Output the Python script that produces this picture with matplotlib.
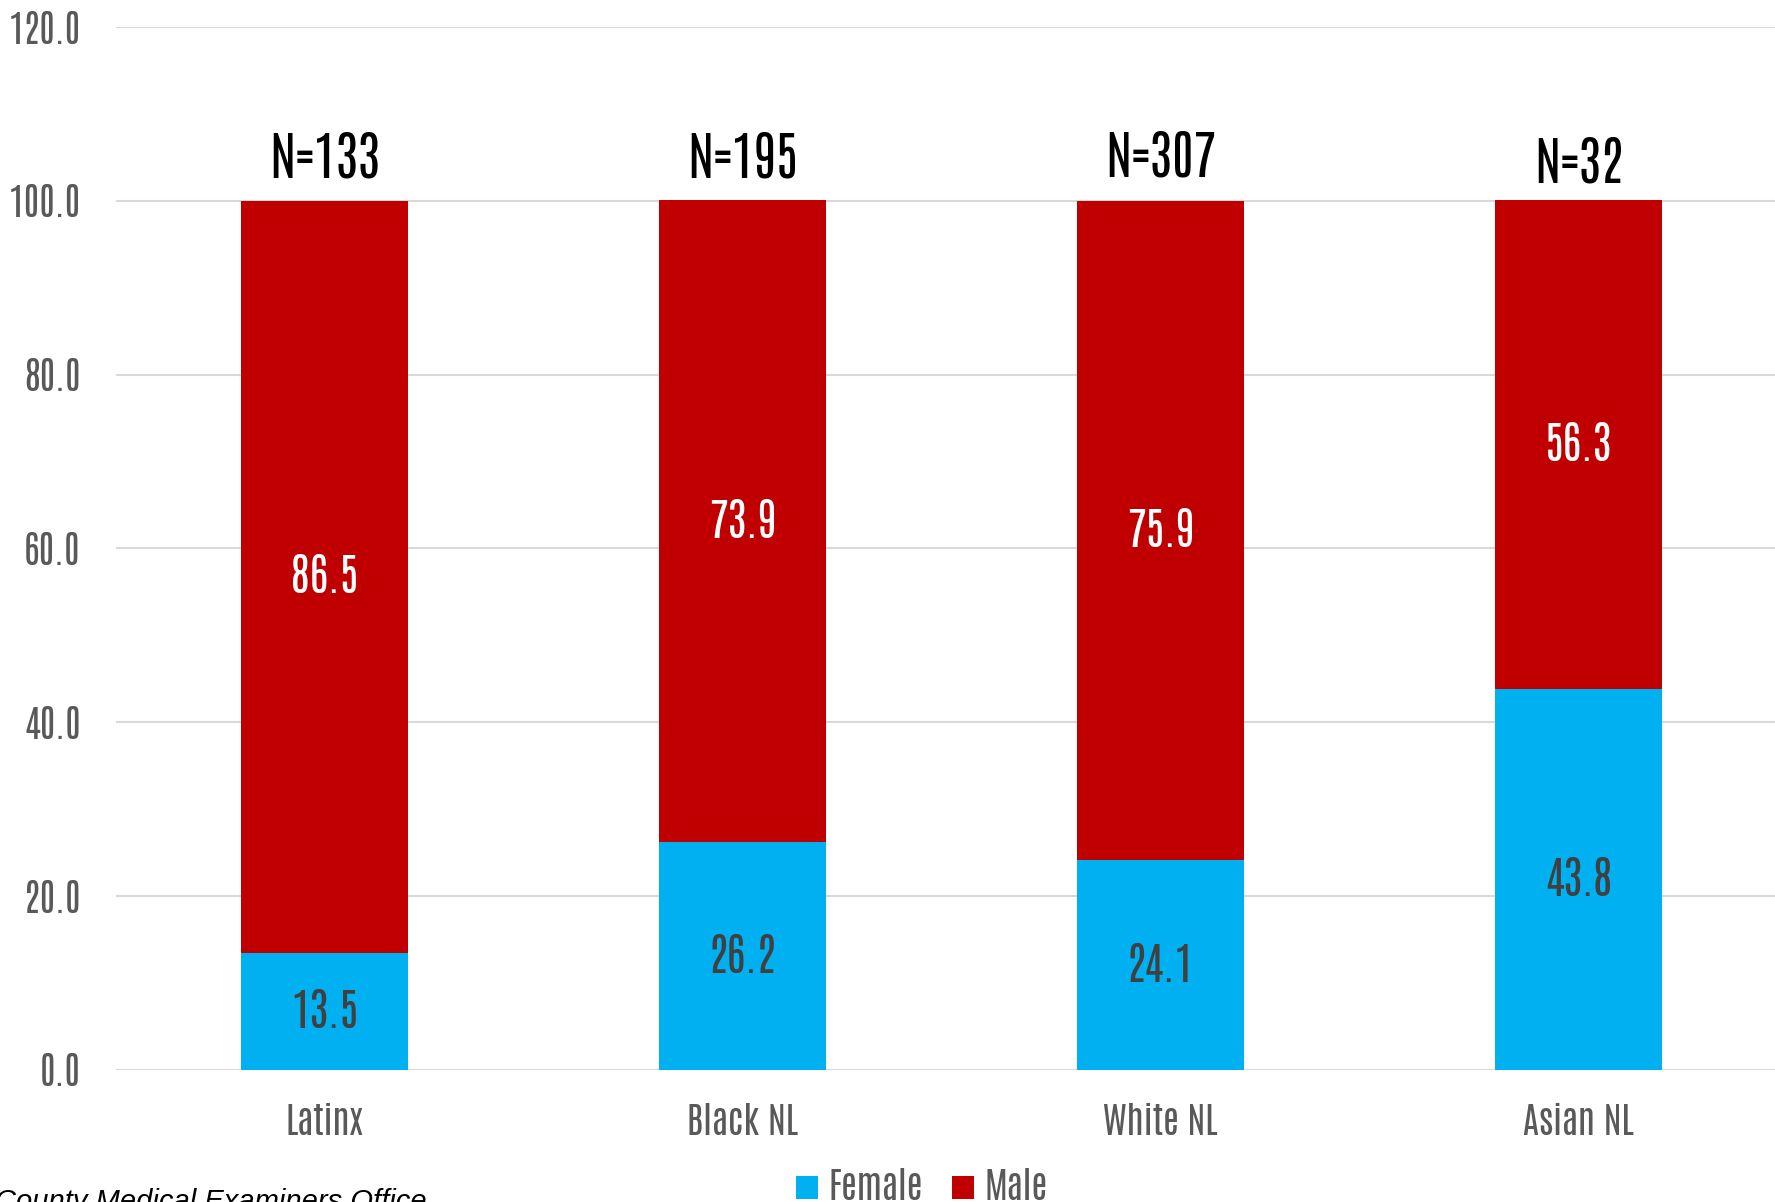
import matplotlib
matplotlib.use("Agg")
import matplotlib.pyplot as plt
from matplotlib.patches import Patch

categories = ["Latinx", "Black NL", "White NL", "Asian NL"]
female = [13.5, 26.2, 24.1, 43.8]
male = [86.5, 73.9, 75.9, 56.3]
n_labels = ["N=133", "N=195", "N=307", "N=32"]
yticks = [0, 20, 40, 60, 80, 100, 120]

FONT = "Antonio"
BLUE = "#00B0F0"
RED = "#C00000"
GRAY = "#595959"

# vertical placement of the N= annotations (data units)
n_label_y = [101.9, 101.9, 102.0, 101.3]

fig = plt.figure(figsize=(17.75, 12.02), dpi=100)
ax = fig.add_axes([0.0651, 0.1099, 1 - 0.0651, 0.9775 - 0.1099])

x = list(range(len(categories)))
w = 0.4
ax.bar(x, female, width=w, color=BLUE, zorder=3)
ax.bar(x, male, width=w, bottom=female, color=RED, zorder=3)

for i in x:
    ax.text(i, female[i] / 2, f"{female[i]:.1f}", ha="center", va="center",
            fontsize=32, family=FONT, fontweight="bold", color="#404040", zorder=4)
    ax.text(i, female[i] + male[i] / 2, f"{male[i]:.1f}", ha="center", va="center",
            fontsize=32, family=FONT, fontweight="bold", color="white", zorder=4)
    ax.text(i, n_label_y[i], n_labels[i], ha="center", va="bottom",
            fontsize=38, family=FONT, fontweight="bold", color="black", zorder=4)

ax.set_xlim(-0.5, 3.47)
ax.set_ylim(0, 120)
ax.set_yticks(yticks)
ax.set_yticklabels([f"{v:.1f}" for v in yticks])
ax.set_xticks(x)
ax.set_xticklabels(categories)
for lab in ax.get_yticklabels():
    lab.set_family(FONT)
    lab.set_fontsize(27)
    lab.set_color(GRAY)
for lab in ax.get_xticklabels():
    lab.set_family(FONT)
    lab.set_fontsize(26)
    lab.set_color(GRAY)
ax.tick_params(axis="y", length=0, pad=25)
ax.tick_params(axis="x", length=0, pad=24)
ax.yaxis.grid(True, color="#D9D9D9", linewidth=1.5, zorder=0)
ax.set_axisbelow(True)
for s in ax.spines.values():
    s.set_visible(False)

handles = [Patch(facecolor=BLUE, label="Female"), Patch(facecolor=RED, label="Male")]
leg = fig.legend(handles=handles, loc="center", bbox_to_anchor=(0.5195, 0.0125), ncol=2,
                 frameon=False, prop={"family": FONT, "size": 26},
                 handlelength=0.6, handleheight=0.6, handletextpad=0.3, columnspacing=0.8)
for t in leg.get_texts():
    t.set_color(GRAY)

fig.text(-0.003, 0.0, "County Medical Examiners Office", fontsize=21, style="italic",
         family="Liberation Sans", color="black", ha="left", va="center")

fig.savefig("out.png")
